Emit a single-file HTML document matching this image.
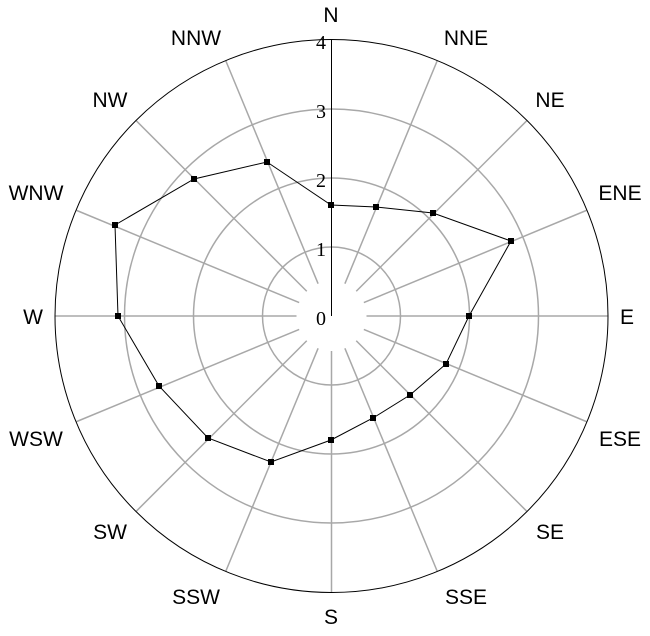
<!DOCTYPE html><html><head><style>body{margin:0;background:#fff}</style></head><body>
<svg width="650" height="631" xmlns="http://www.w3.org/2000/svg">
<g fill="none" stroke="#a8a8a8" stroke-width="1.5">
<circle cx="331.5" cy="316" r="69"/><circle cx="331.5" cy="316" r="138"/><circle cx="331.5" cy="316" r="207"/>
<line x1="331.5" y1="281" x2="331.5" y2="40" transform="rotate(22.5 331.5 316)"/>
<line x1="331.5" y1="281" x2="331.5" y2="40" transform="rotate(45 331.5 316)"/>
<line x1="331.5" y1="281" x2="331.5" y2="40" transform="rotate(67.5 331.5 316)"/>
<line x1="331.5" y1="281" x2="331.5" y2="40" transform="rotate(90 331.5 316)"/>
<line x1="331.5" y1="281" x2="331.5" y2="40" transform="rotate(112.5 331.5 316)"/>
<line x1="331.5" y1="281" x2="331.5" y2="40" transform="rotate(135 331.5 316)"/>
<line x1="331.5" y1="281" x2="331.5" y2="40" transform="rotate(157.5 331.5 316)"/>
<line x1="331.5" y1="281" x2="331.5" y2="40" transform="rotate(180 331.5 316)"/>
<line x1="331.5" y1="281" x2="331.5" y2="40" transform="rotate(202.5 331.5 316)"/>
<line x1="331.5" y1="281" x2="331.5" y2="40" transform="rotate(225 331.5 316)"/>
<line x1="331.5" y1="281" x2="331.5" y2="40" transform="rotate(247.5 331.5 316)"/>
<line x1="331.5" y1="281" x2="331.5" y2="40" transform="rotate(270 331.5 316)"/>
<line x1="331.5" y1="281" x2="331.5" y2="40" transform="rotate(292.5 331.5 316)"/>
<line x1="331.5" y1="281" x2="331.5" y2="40" transform="rotate(315 331.5 316)"/>
<line x1="331.5" y1="281" x2="331.5" y2="40" transform="rotate(337.5 331.5 316)"/>
</g>
<circle cx="331.5" cy="316" r="276.5" fill="none" stroke="#000" stroke-width="1"/>
<line x1="331.5" y1="316" x2="331.5" y2="40" stroke="#000" stroke-width="1"/>
<g font-family="Liberation Serif, serif" font-size="20" text-anchor="middle">
<text x="321" y="325">0</text><text x="321" y="256">1</text><text x="321" y="187">2</text><text x="321" y="118">3</text><text x="321" y="49">4</text>
</g>
<polygon fill="none" stroke="#000" stroke-width="1" points="331,205 376,207 433,213 511,241 469,316 446,364 410,395 373,418 331,440 271,462 208,438 159,386 118,316 115,225 194,179 267,162"/>
<g fill="#000">
<rect x="328" y="202" width="6" height="6"/><rect x="373" y="204" width="6" height="6"/><rect x="430" y="210" width="6" height="6"/><rect x="508" y="238" width="6" height="6"/><rect x="466" y="313" width="6" height="6"/><rect x="443" y="361" width="6" height="6"/><rect x="407" y="392" width="6" height="6"/><rect x="370" y="415" width="6" height="6"/><rect x="328" y="437" width="6" height="6"/><rect x="268" y="459" width="6" height="6"/><rect x="205" y="435" width="6" height="6"/><rect x="156" y="383" width="6" height="6"/><rect x="115" y="313" width="6" height="6"/><rect x="112" y="222" width="6" height="6"/><rect x="191" y="176" width="6" height="6"/><rect x="264" y="159" width="6" height="6"/>
</g>
<g font-family="Liberation Sans, sans-serif" font-size="21" text-anchor="middle">
<text x="331" y="22">N</text><text x="466" y="45">NNE</text><text x="550" y="107">NE</text><text x="620" y="200">ENE</text><text x="627" y="324">E</text><text x="620" y="446">ESE</text><text x="550" y="539">SE</text><text x="466" y="604">SSE</text><text x="331" y="624">S</text><text x="196" y="604">SSW</text><text x="110" y="539">SW</text><text x="36" y="446">WSW</text><text x="33" y="324">W</text><text x="36" y="200">WNW</text><text x="110" y="107">NW</text><text x="196" y="45">NNW</text>
</g>
</svg>
</body></html>
